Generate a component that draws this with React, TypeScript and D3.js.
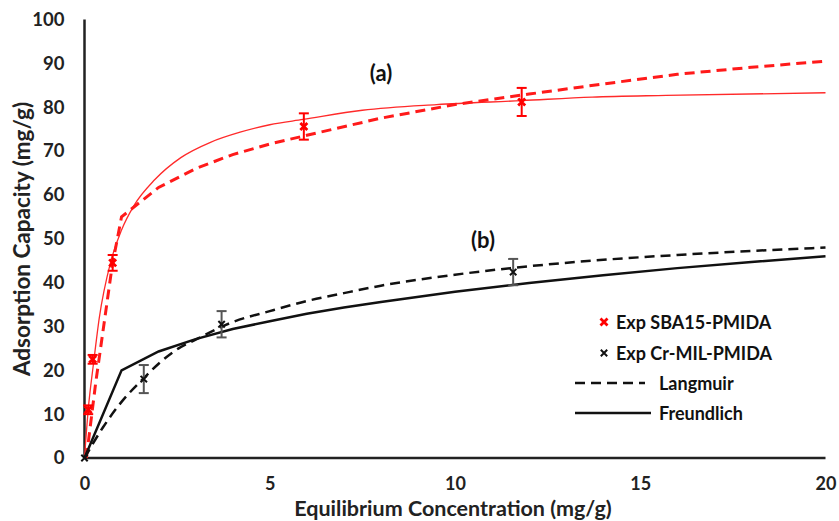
import { useEffect, useRef } from "react";
import * as d3 from "d3";

// experimental points (a) SBA15-PMIDA
const expAx = [0.1, 0.22, 0.76, 5.92, 11.8];
const expAy = [11, 22.5, 44.5, 75.6, 81.2];
const expAerr = [1, 1, 1.8, 3, 3.2];
// experimental points (b) Cr-MIL-PMIDA
const expBx = [0, 1.6, 3.7, 11.57];
const expBy = [0, 18, 30.5, 42.4];
const expBerr = [0, 3.2, 3, 3];

// model curves
const langAx = [0.05, 0.3, 0.75, 1, 2, 3, 4, 5, 6, 8, 10, 12, 14, 16, 18, 20];
const langAy = [0, 17, 44, 55, 61.7, 66, 69.2, 71.6, 73.6, 77.5, 80.6, 83, 85.3, 87.5, 89.1, 90.5];
const freuAx = [0, 0.1, 0.25, 0.4, 0.7, 1.0, 1.33, 1.9, 2.6, 3.4, 4.2, 5, 5.9, 7.5, 9.5, 11.8, 13.7, 15.7, 20];
const freuAy = [0, 11, 22, 32, 44.5, 52, 57.5, 63.5, 68.5, 72, 74.3, 76, 77.2, 79.3, 80.6, 81.5, 82.3, 82.7, 83.3];
const langBx = [0, 0.5, 1, 1.6, 2, 2.54, 3, 4, 5, 6, 7, 8, 10, 11.5, 13.7, 16, 20];
const langBy = [0, 7, 12.8, 18.2, 21.5, 25, 27, 31, 33.5, 35.8, 37.6, 39.3, 41.8, 43.3, 45, 46.3, 48];
const freuBx = [0, 1, 2, 3, 4, 5, 6, 7, 8, 10, 12, 14, 16, 18, 20];
const freuBy = [0, 20, 24.3, 27.1, 29.4, 31.2, 32.9, 34.3, 35.6, 37.9, 39.9, 41.7, 43.3, 44.7, 46];

const xTicks = [0, 5, 10, 15, 20];
const yTicks = [0, 10, 20, 30, 40, 50, 60, 70, 80, 90, 100];
const legendLabels = ["Exp SBA15-PMIDA", "Exp Cr-MIL-PMIDA", "Langmuir", "Freundlich"];

const W = 839;
const H = 521;
const FONT = "Lato, 'Open Sans', sans-serif";

export default function App() {
  const svgRef = useRef<SVGSVGElement>(null);

  useEffect(() => {
    const svg = d3.select(svgRef.current);
    svg.selectAll("*").remove();

    const x = d3.scaleLinear().domain([0, 20]).range([84.5, 825.5]);
    const y = d3.scaleLinear().domain([0, 100]).range([458, 19.5]);

    const g = svg.append("g");

    // axes (no tick marks, just labels)
    const xAxis = d3.axisBottom(x).tickValues(xTicks).tickSize(0).tickPadding(19);
    g.append("g")
      .attr("transform", `translate(0,${y(0)})`)
      .call(xAxis)
      .call((a) => a.select(".domain").remove())
      .selectAll("text")
      .attr("font-family", FONT)
      .attr("font-weight", 700)
      .attr("font-size", 18)
      .attr("fill", "#222");

    const yAxis = d3.axisLeft(y).tickValues(yTicks).tickSize(0).tickPadding(20);
    g.append("g")
      .attr("transform", `translate(${x(0)},0)`)
      .call(yAxis)
      .call((a) => a.select(".domain").remove())
      .selectAll("text")
      .attr("font-family", FONT)
      .attr("font-weight", 700)
      .attr("font-size", 18.5)
      .attr("fill", "#222");

    g.append("line")
      .attr("x1", x(0)).attr("x2", x(20))
      .attr("y1", y(0)).attr("y2", y(0))
      .attr("stroke", "#222").attr("stroke-width", 2.5);
    g.append("line")
      .attr("x1", x(0)).attr("x2", x(0))
      .attr("y1", y(0)).attr("y2", y(100))
      .attr("stroke", "#222").attr("stroke-width", 2.5);

    // curves
    const drawCurve = (xs: number[], ys: number[], color: string, width: number, dash: string | null, curve: d3.CurveFactory) => {
      const line = d3.line<number>()
        .x((d) => x(xs[d]))
        .y((d) => y(ys[d]))
        .curve(curve);
      g.append("path")
        .attr("d", line(d3.range(xs.length)))
        .attr("fill", "none")
        .attr("stroke", color)
        .attr("stroke-width", width)
        .attr("stroke-dasharray", dash);
    };
    drawCurve(freuAx, freuAy, "#ff2a2a", 1.3, null, d3.curveMonotoneX);
    drawCurve(langAx, langAy, "#ff1a1a", 3, "10,6", d3.curveLinear);
    drawCurve(langBx, langBy, "#111", 2.5, "10,6", d3.curveMonotoneX);
    drawCurve(freuBx, freuBy, "#111", 2.5, null, d3.curveLinear);

    // error bars and x markers
    const drawPoints = (xs: number[], ys: number[], errs: number[], color: string, barColor: string, size: number, sw: number) => {
      xs.forEach((xv, i) => {
        const cx = x(xv);
        const cy = y(ys[i]);
        if (errs[i] > 0) {
          const t = y(ys[i] + errs[i]);
          const b = y(ys[i] - errs[i]);
          g.append("line").attr("x1", cx).attr("x2", cx).attr("y1", t).attr("y2", b)
            .attr("stroke", barColor).attr("stroke-width", 2);
          [t, b].forEach((yy) => {
            g.append("line").attr("x1", cx - 5).attr("x2", cx + 5).attr("y1", yy).attr("y2", yy)
              .attr("stroke", barColor).attr("stroke-width", 2);
          });
        }
        g.append("path")
          .attr("d", `M${cx - size},${cy - size}L${cx + size},${cy + size}M${cx - size},${cy + size}L${cx + size},${cy - size}`)
          .attr("stroke", color)
          .attr("stroke-width", sw);
      });
    };
    drawPoints(expAx, expAy, expAerr, "#ff0000", "#ff0000", 3.5, 2.8);
    drawPoints(expBx, expBy, expBerr, "#111", "#555", 3.2, 2);

    // panel labels
    g.append("text").attr("x", 381).attr("y", 81).attr("text-anchor", "middle")
      .attr("font-family", FONT).attr("font-weight", 700).attr("font-size", 22).attr("fill", "#111")
      .text("(a)");
    g.append("text").attr("x", 483).attr("y", 248).attr("text-anchor", "middle")
      .attr("font-family", FONT).attr("font-weight", 700).attr("font-size", 22).attr("fill", "#111")
      .text("(b)");

    // axis titles
    g.append("text").attr("x", 453).attr("y", 516).attr("text-anchor", "middle")
      .attr("font-family", FONT).attr("font-weight", 700).attr("font-size", 21.5).attr("fill", "#222")
      .text("Equilibrium Concentration (mg/g)");
    g.append("text")
      .attr("transform", `translate(30,239) rotate(-90)`)
      .attr("text-anchor", "middle")
      .attr("font-family", FONT).attr("font-weight", 700).attr("font-size", 22.5).attr("fill", "#222")
      .text("Adsorption Capacity (mg/g)");

    // legend
    const leg = g.append("g");
    const rowY = [322, 353, 383, 413];
    const markerX = 604;
    // marker rows
    [[0, "#ff0000", 3.5, 2.8], [1, "#111", 3.2, 2]].forEach(([i, c, s, w]) => {
      const cy = rowY[i as number];
      const r = s as number;
      leg.append("path")
        .attr("d", `M${markerX - r},${cy - r}L${markerX + r},${cy + r}M${markerX - r},${cy + r}L${markerX + r},${cy - r}`)
        .attr("stroke", c as string).attr("stroke-width", w as number);
      leg.append("text").attr("x", 616).attr("y", cy + 6.5)
        .attr("font-family", FONT).attr("font-weight", 700).attr("font-size", 18).attr("fill", "#111")
        .text(legendLabels[i as number]);
    });
    leg.append("line").attr("x1", 575).attr("x2", 645).attr("y1", rowY[2]).attr("y2", rowY[2])
      .attr("stroke", "#111").attr("stroke-width", 2.5).attr("stroke-dasharray", "10,6");
    leg.append("text").attr("x", 659).attr("y", rowY[2] + 6.5)
      .attr("font-family", FONT).attr("font-weight", 700).attr("font-size", 18).attr("fill", "#111")
      .text(legendLabels[2]);
    leg.append("line").attr("x1", 575).attr("x2", 651).attr("y1", rowY[3]).attr("y2", rowY[3])
      .attr("stroke", "#111").attr("stroke-width", 2.5);
    leg.append("text").attr("x", 659).attr("y", rowY[3] + 6.5)
      .attr("font-family", FONT).attr("font-weight", 700).attr("font-size", 18).attr("fill", "#111")
      .text(legendLabels[3]);
  }, []);

  return (
    <svg
      ref={svgRef}
      width={W}
      height={H}
      style={{ position: "absolute", left: 0, top: 0, background: "#fff" }}
    />
  );
}
